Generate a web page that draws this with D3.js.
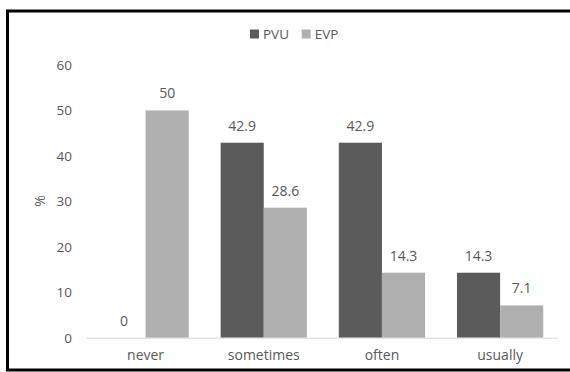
<!DOCTYPE html>
<html>
<head>
<meta charset="utf-8">
<script src="https://cdn.jsdelivr.net/npm/d3@7"></script>
<style>
  html, body { margin: 0; padding: 0; background: #fff; }
  svg { display: block; }
  text { font-family: "Open Sans", sans-serif; fill: #595959; }
</style>
</head>
<body>
<svg id="chart" width="570" height="372"></svg>
<script>
const categories = ["never", "sometimes", "often", "usually"];
const seriesNames = ["PVU", "EVP"];
const pvuValues = [0, 42.9, 42.9, 14.3];
const evpValues = [50, 28.6, 14.3, 7.1];
const yTicks = [0, 10, 20, 30, 40, 50, 60];
const colors = { PVU: "#5b5b5b", EVP: "#afafaf" };

const svg = d3.select("#chart");

// frame
svg.append("rect")
  .attr("x", 7.5).attr("y", 11)
  .attr("width", 580).attr("height", 359)
  .attr("fill", "none").attr("stroke", "#000").attr("stroke-width", 3);

const x = d3.scaleBand().domain(categories).range([86.5, 559.2])
  .paddingInner(0.27).paddingOuter(0.135);
const xs = d3.scaleBand().domain(seriesNames).range([0, x.bandwidth()]);
const y = d3.scaleLinear().domain([0, 60]).range([337.7, 65]);

// y tick labels
const yAxis = d3.axisLeft(y).tickValues(yTicks).tickSize(0).tickPadding(0);
const ya = svg.append("g").attr("transform", "translate(72,0)").call(yAxis);
ya.select(".domain").remove();
ya.selectAll("text").style("font-size", "13.5px").attr("fill", "#595959")
  .attr("font-family", "'Open Sans', sans-serif");

// axis title
svg.append("text").attr("transform", "translate(40,201) rotate(-90)")
  .attr("text-anchor", "middle").attr("dy", "0.35em")
  .style("font-size", "14px").text("%");

const data = categories.map((c, i) => ({ cat: c, PVU: pvuValues[i], EVP: evpValues[i] }));

const groups = svg.append("g").selectAll("g").data(data).join("g")
  .attr("transform", d => `translate(${x(d.cat)},0)`);

groups.selectAll("rect").data(d => seriesNames.map(s => ({ s, v: d[s] }))).join("rect")
  .attr("x", d => xs(d.s)).attr("width", xs.bandwidth())
  .attr("y", d => y(d.v)).attr("height", d => y(0) - y(d.v))
  .attr("fill", d => colors[d.s]);

groups.selectAll("text.val").data(d => seriesNames.map(s => ({ s, v: d[s] }))).join("text")
  .attr("class", "val")
  .attr("x", d => xs(d.s) + xs.bandwidth() / 2)
  .attr("y", d => y(d.v) - 12)
  .attr("text-anchor", "middle")
  .style("font-size", "14px").attr("fill", "#404040")
  .text(d => d.v);

// baseline + category labels
const xAxis = d3.axisBottom(x).tickSize(0).tickPadding(12);
const xa = svg.append("g").attr("transform", `translate(0,${y(0)})`).call(xAxis);
xa.select(".domain").attr("stroke", "#d9d9d9").attr("stroke-width", 1)
  .attr("d", "M86.5,0.5H558");
xa.selectAll("text").style("font-size", "14px").attr("fill", "#595959")
  .attr("font-family", "'Open Sans', sans-serif");

// legend
const legend = svg.append("g").attr("transform", "translate(250,34)");
const lx = [0, 51.7];
seriesNames.forEach((s, i) => {
  const g = legend.append("g").attr("transform", `translate(${lx[i]},0)`);
  g.append("rect").attr("x", 0).attr("y", -4.5).attr("width", 9).attr("height", 9).attr("fill", colors[s]);
  g.append("text").attr("x", 13).attr("dy", "0.35em").style("font-size", "13.5px").text(s);
});
</script>
</body>
</html>
